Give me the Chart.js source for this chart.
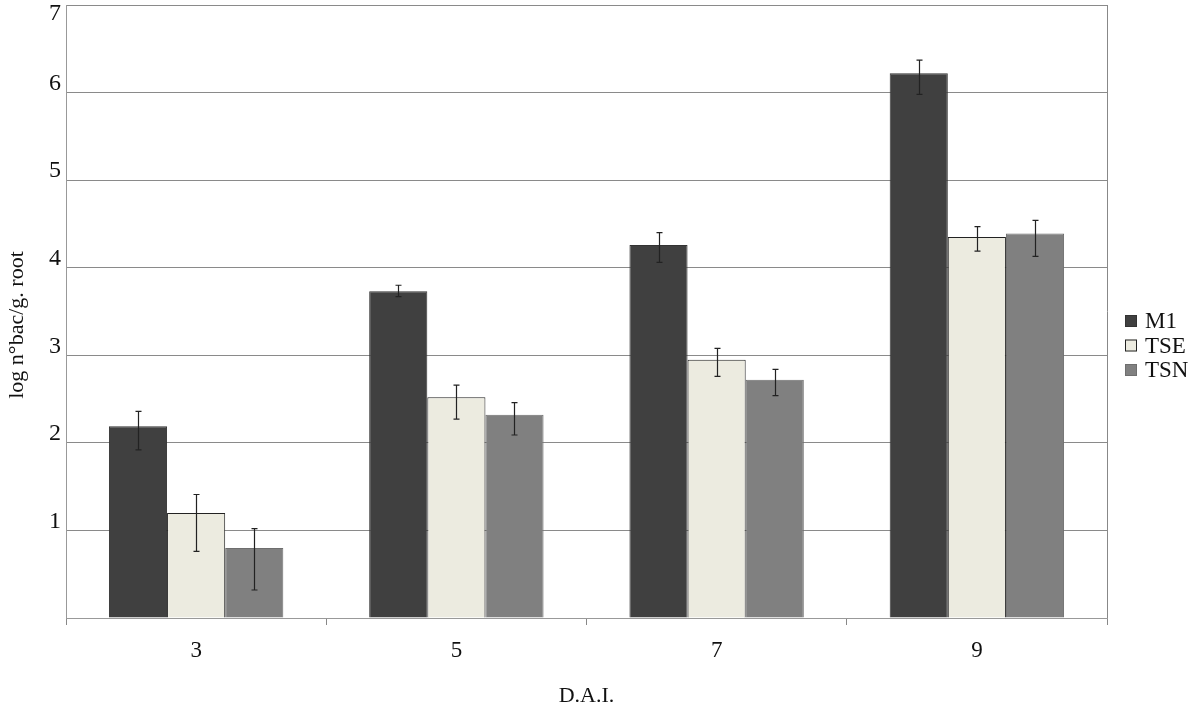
<!DOCTYPE html>
<html>
<head>
<meta charset="utf-8">
<script src="https://cdn.jsdelivr.net/npm/chart.js@4.4.1/dist/chart.umd.min.js"></script>
<style>
  html, body { margin: 0; padding: 0; background: #fff; }
  #wrap { width: 1200px; height: 709px; position: relative; }
</style>
</head>
<body>
<div id="wrap"><canvas id="chart" width="1200" height="709"></canvas></div>
<script>
const categories = ["3", "5", "7", "9"];
const seriesNames = ["M1", "TSE", "TSN"];

const m1Values = [2.19, 3.73, 4.26, 6.22];
const tseValues = [1.20, 2.52, 2.95, 4.35];
const tsnValues = [0.80, 2.32, 2.72, 4.39];

// error bar ends (low, high)
const m1Low = [1.92, 3.67, 4.06, 5.98];
const m1High = [2.36, 3.80, 4.40, 6.37];
const tseLow = [0.76, 2.27, 2.76, 4.19];
const tseHigh = [1.41, 2.66, 3.08, 4.47];
const tsnLow = [0.32, 2.09, 2.54, 4.13];
const tsnHigh = [1.02, 2.46, 2.84, 4.54];

const yTicks = [1, 2, 3, 4, 5, 6, 7];
const yTitle = "log n°bac/g. root";
const xTitle = "D.A.I.";

const serif = "'Liberation Serif', 'DejaVu Serif', serif";

const errorBars = {
    id: "errorBars",
    afterDatasetsDraw(chart) {
        const ctx = chart.ctx;
        const y = chart.scales.y;
        chart.data.datasets.forEach((ds, i) => {
            const meta = chart.getDatasetMeta(i);
            meta.data.forEach((bar, j) => {
                const top = y.getPixelForValue(ds.errHigh[j]);
                const bottom = y.getPixelForValue(ds.errLow[j]);
                const x = Math.round(bar.x) + 0.5;
                ctx.save();
                ctx.strokeStyle = "#222";
                ctx.lineWidth = 1.2;
                ctx.beginPath();
                ctx.moveTo(x, top);
                ctx.lineTo(x, bottom);
                ctx.moveTo(x - 3, top);
                ctx.lineTo(x + 3, top);
                ctx.moveTo(x - 3, bottom);
                ctx.lineTo(x + 3, bottom);
                ctx.stroke();
                ctx.restore();
            });
        });
    },
};

// y tick labels sit a little above their grid lines in the original
const yLabels = {
    id: "yLabels",
    afterDraw(chart) {
        const ctx = chart.ctx;
        const y = chart.scales.y;
        ctx.save();
        ctx.fillStyle = "#111";
        ctx.font = "24px " + serif;
        ctx.textAlign = "right";
        ctx.textBaseline = "middle";
        yTicks.forEach(v => {
            const py = Math.max(y.getPixelForValue(v) - 9, 14);
            ctx.fillText(String(v), 61, py);
        });
        ctx.translate(17, 325);
        ctx.rotate(-Math.PI / 2);
        ctx.textAlign = "center";
        ctx.font = "22px " + serif;
        ctx.fillText(yTitle, 0, 0);
        ctx.restore();
    },
};

const sideLegend = {
    id: "sideLegend",
    afterDraw(chart) {
        const ctx = chart.ctx;
        const x0 = 1125;
        const y0 = 321;
        chart.data.datasets.forEach((ds, i) => {
            const yy = y0 + i * 24.5;
            ctx.save();
            ctx.fillStyle = ds.backgroundColor;
            ctx.fillRect(x0, yy - 6, 12, 12);
            ctx.strokeStyle = ds.borderColor;
            ctx.lineWidth = 1;
            ctx.strokeRect(x0 + 0.5, yy - 5.5, 11, 11);
            ctx.fillStyle = "#111";
            ctx.font = "23px " + serif;
            ctx.textBaseline = "middle";
            ctx.fillText(ds.label, x0 + 20, yy + 1);
            ctx.restore();
        });
    },
};

new Chart(document.getElementById("chart"), {
    type: "bar",
    data: {
        labels: categories,
        datasets: [
            {
                label: seriesNames[0],
                data: m1Values,
                errLow: m1Low,
                errHigh: m1High,
                backgroundColor: "#404040",
                borderColor: "#333333",
                borderWidth: 1,
            },
            {
                label: seriesNames[1],
                data: tseValues,
                errLow: tseLow,
                errHigh: tseHigh,
                backgroundColor: "#ecebe0",
                borderColor: "#222222",
                borderWidth: 1,
            },
            {
                label: seriesNames[2],
                data: tsnValues,
                errLow: tsnLow,
                errHigh: tsnHigh,
                backgroundColor: "#808080",
                borderColor: "#6e6e6e",
                borderWidth: 1,
            },
        ],
    },
    options: {
        responsive: false,
        animation: false,
        layout: { padding: { top: 5, right: 93, left: 0, bottom: 0 } },
        categoryPercentage: 0.67,
        barPercentage: 1.0,
        plugins: {
            legend: { display: false },
            tooltip: { enabled: false },
        },
        scales: {
            x: {
                grid: {
                    display: true,
                    offset: true,
                    drawOnChartArea: false,
                    drawTicks: true,
                    tickLength: 7,
                    color: "#888",
                },
                border: { display: true, color: "#999", width: 1 },
                ticks: {
                    color: "#111",
                    font: { family: serif, size: 23 },
                    padding: 12,
                },
                title: {
                    display: true,
                    text: xTitle,
                    color: "#111",
                    font: { family: serif, size: 22 },
                    padding: { top: 12, bottom: 0 },
                },
                afterFit(scale) { scale.height = 91; },
            },
            y: {
                min: 0,
                max: 7,
                afterBuildTicks(scale) {
                    scale.ticks = [0].concat(yTicks).map(v => ({ value: v }));
                },
                grid: {
                    color: "#8a8a8a",
                    lineWidth: 1,
                    drawTicks: false,
                },
                border: { display: true, color: "#999", width: 1 },
                ticks: { display: false },
                afterFit(scale) { scale.width = 66; },
            },
        },
    },
    plugins: [errorBars, yLabels, sideLegend, {
        id: "rightBorder",
        afterDraw(chart) {
            const a = chart.chartArea;
            const ctx = chart.ctx;
            ctx.save();
            ctx.strokeStyle = "#888";
            ctx.lineWidth = 1;
            ctx.beginPath();
            ctx.moveTo(Math.round(a.right) + 0.5, a.top);
            ctx.lineTo(Math.round(a.right) + 0.5, a.bottom);
            ctx.stroke();
            ctx.restore();
        },
    }],
});
</script>
</body>
</html>
